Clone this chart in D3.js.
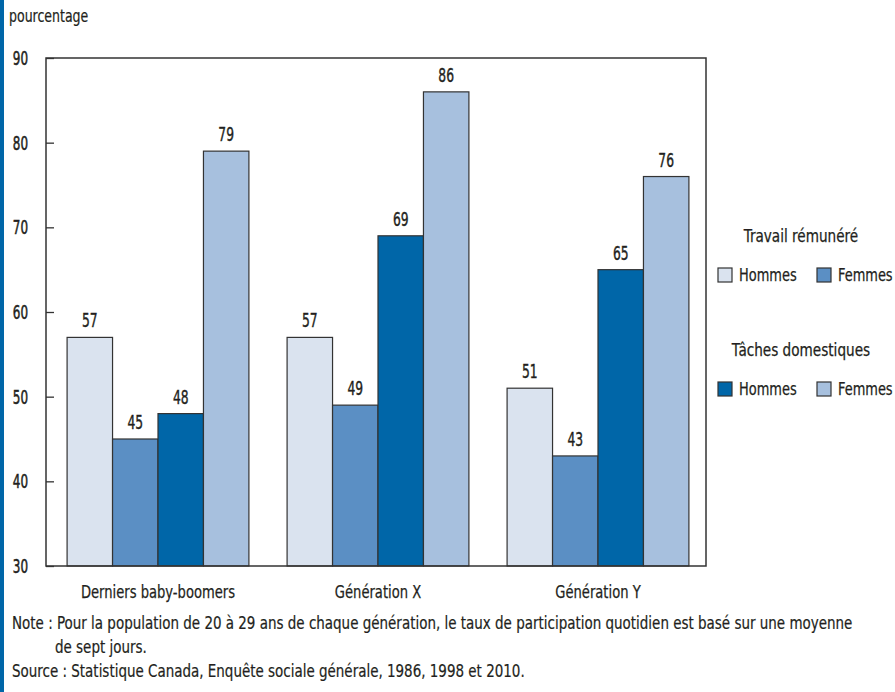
<!DOCTYPE html>
<meta charset="utf-8">
<body style="margin:0;background:#fff">
<script src="https://cdn.jsdelivr.net/npm/d3@7/dist/d3.min.js"></script>
<script>

// Chart data.

var generations = ["Derniers baby-boomers", "Génération X", "Génération Y"];
var seriesKeys = ["travailHommes", "travailFemmes", "tachesHommes", "tachesFemmes"];
var travailHommes = [57, 57, 51];
var travailFemmes = [45, 49, 43];
var tachesHommes = [48, 69, 65];
var tachesFemmes = [79, 86, 76];
var yTicks = [30, 40, 50, 60, 70, 80, 90];

var values = {
    travailHommes: travailHommes,
    travailFemmes: travailFemmes,
    tachesHommes: tachesHommes,
    tachesFemmes: tachesFemmes
};

var colors = {
    travailHommes: "#dae3ef",
    travailFemmes: "#5b8fc4",
    tachesHommes: "#0066a8",
    tachesFemmes: "#a7c0de"
};

var width = 895,
    height = 692;

var font = "'DejaVu Sans Condensed', 'DejaVu Sans', sans-serif";

// The original uses a narrow typeface; squeeze glyphs horizontally.

function narrow(sel, k) {
    sel.each(function() {
        var len = this.getComputedTextLength();
        d3.select(this)
            .attr("textLength", len * k)
            .attr("lengthAdjust", "spacingAndGlyphs");
    });
}

var svg = d3.select("body").append("svg")
    .attr("width", width)
    .attr("height", height)
    .style("font-family", font)
    .style("display", "block");

// Blue strip on the left edge.

svg.append("rect")
    .attr("x", 0)
    .attr("y", 0)
    .attr("width", 4)
    .attr("height", height)
    .attr("fill", "#0066a8");

// Plot area.

var plot = {left: 46, right: 706, top: 58, bottom: 566};

var x0 = d3.scaleBand()
    .domain(generations)
    .range([plot.left, plot.right])
    .padding(0);

var x1 = d3.scaleBand()
    .domain(seriesKeys)
    .range([0, x0.bandwidth()])
    .paddingInner(0)
    .paddingOuter(0.42);

var y = d3.scaleLinear()
    .domain([30, 90])
    .range([plot.bottom, plot.top]);

// Bars.

var groups = svg.append("g").selectAll("g")
    .data(generations)
    .enter().append("g")
    .attr("transform", function(d) { return "translate(" + (x0(d) + 2) + ",0)"; });

function groupData(d, i) {
    return seriesKeys.map(function(k) { return {key: k, value: values[k][i]}; });
}

groups.selectAll("rect")
    .data(groupData)
    .enter().append("rect")
    .attr("x", function(d) { return x1(d.key); })
    .attr("y", function(d) { return y(d.value); })
    .attr("width", x1.bandwidth())
    .attr("height", function(d) { return y(30) - y(d.value); })
    .attr("fill", function(d) { return colors[d.key]; })
    .attr("stroke", "#333")
    .attr("stroke-width", 1.2);

groups.selectAll("text")
    .data(groupData)
    .enter().append("text")
    .attr("x", function(d) { return x1(d.key) + x1.bandwidth() / 2; })
    .attr("y", function(d) { return y(d.value) - 10; })
    .attr("text-anchor", "middle")
    .attr("font-size", "19px")
    .attr("fill", "#231f20")
    .attr("stroke", "#231f20")
    .attr("stroke-width", 0.4)
    .text(function(d) { return d.value; })
    .call(narrow, 0.72);

// Frame.

svg.append("rect")
    .attr("x", plot.left)
    .attr("y", plot.top)
    .attr("width", plot.right - plot.left)
    .attr("height", plot.bottom - plot.top)
    .attr("fill", "none")
    .attr("stroke", "#333")
    .attr("stroke-width", 1.5);

// Y axis: inward ticks, labels on the left.

var yAxis = svg.append("g")
    .attr("transform", "translate(" + plot.left + ",0)")
    .call(d3.axisRight(y).tickValues(yTicks).tickSize(8).tickFormat(""));

yAxis.select(".domain").remove();
yAxis.selectAll("line").attr("stroke", "#333").attr("stroke-width", 1.3);

svg.append("g").selectAll("text")
    .data(yTicks)
    .enter().append("text")
    .attr("x", 28)
    .attr("y", function(d) { return y(d); })
    .attr("dy", "0.36em")
    .attr("text-anchor", "end")
    .attr("font-size", "19px")
    .attr("fill", "#231f20")
    .attr("stroke", "#231f20")
    .attr("stroke-width", 0.5)
    .text(function(d) { return d; })
    .call(narrow, 0.7);

// X axis labels.

svg.append("g").selectAll("text")
    .data(generations)
    .enter().append("text")
    .attr("x", function(d) { return x0(d) + x0.bandwidth() / 2 + 2; })
    .attr("y", 598)
    .attr("text-anchor", "middle")
    .attr("font-size", "18px")
    .attr("fill", "#231f20")
    .attr("stroke", "#231f20")
    .attr("stroke-width", 0.25)
    .text(function(d) { return d; })
    .call(narrow, 0.81);

// Axis title.

svg.append("text")
    .attr("x", 9)
    .attr("y", 22)
    .attr("font-size", "17px")
    .attr("fill", "#231f20")
    .attr("stroke", "#231f20")
    .attr("stroke-width", 0.2)
    .text("pourcentage")
    .call(narrow, 0.82);

// Legend.

var legendGroups = [
    {title: "Travail rémunéré", y: 236, keys: ["travailHommes", "travailFemmes"]},
    {title: "Tâches domestiques", y: 350, keys: ["tachesHommes", "tachesFemmes"]}
];
var legendLabels = ["Hommes", "Femmes"];

legendGroups.forEach(function(g) {
    svg.append("text")
        .attr("x", 801)
        .attr("y", g.y)
        .attr("dy", "0.36em")
        .attr("text-anchor", "middle")
        .attr("font-size", "18px")
        .attr("fill", "#231f20")
        .attr("stroke", "#231f20")
        .attr("stroke-width", 0.25)
        .text(g.title)
        .call(narrow, 0.84);

    g.keys.forEach(function(k, i) {
        var bx = 718 + i * 99;
        svg.append("rect")
            .attr("x", bx)
            .attr("y", g.y + 32)
            .attr("width", 14)
            .attr("height", 14)
            .attr("fill", colors[k])
            .attr("stroke", "#333")
            .attr("stroke-width", 1.2);
        svg.append("text")
            .attr("x", bx + 21)
            .attr("y", g.y + 39)
            .attr("dy", "0.36em")
            .attr("font-size", "18px")
            .attr("fill", "#231f20")
            .attr("stroke", "#231f20")
            .attr("stroke-width", 0.25)
            .text(legendLabels[i])
            .call(narrow, 0.8);
    });
});

// Notes.

var notes = [
    {x: 12, y: 629, text: "Note : Pour la population de 20 à 29 ans de chaque génération, le taux de participation quotidien est basé sur une moyenne"},
    {x: 55, y: 653, text: "de sept jours."},
    {x: 12, y: 677, text: "Source : Statistique Canada, Enquête sociale générale, 1986, 1998 et 2010."}
];

svg.append("g").selectAll("text")
    .data(notes)
    .enter().append("text")
    .attr("x", function(d) { return d.x; })
    .attr("y", function(d) { return d.y; })
    .attr("font-size", "17.5px")
    .attr("fill", "#231f20")
    .attr("stroke", "#231f20")
    .attr("stroke-width", 0.2)
    .text(function(d) { return d.text; })
    .call(narrow, 0.855);

</script>
